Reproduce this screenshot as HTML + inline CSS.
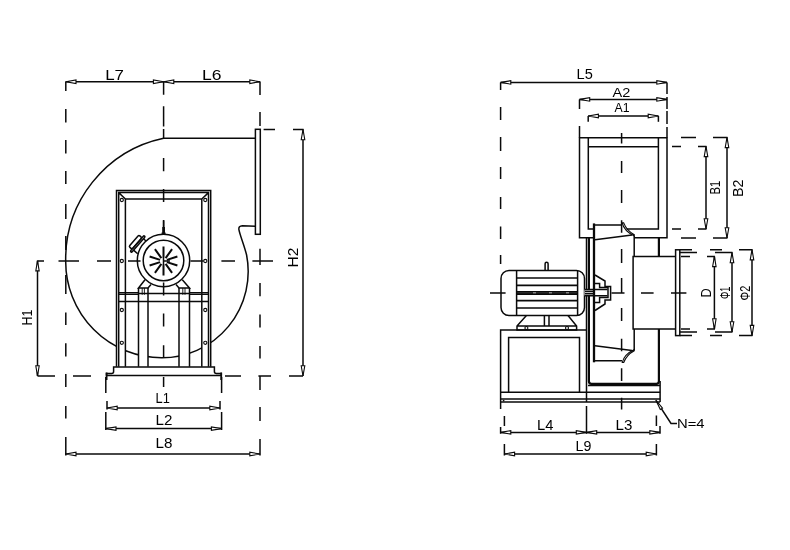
<!DOCTYPE html>
<html lang="en"><head><meta charset="utf-8"><title>Centrifugal fan dimension drawing</title>
<style>
html,body{margin:0;padding:0;background:#fff}
svg{display:block}
.m{fill:none;stroke:#0a0a0a;stroke-width:1.5}
.n{fill:none;stroke:#0a0a0a;stroke-width:1.1}
.k{fill:none;stroke:#0a0a0a;stroke-width:2.2}
.k2{fill:none;stroke:#0a0a0a;stroke-width:2.3}
.t{fill:none;stroke:#0a0a0a;stroke-width:1.8}
.f{fill:none;stroke:#0a0a0a;stroke-width:1.6}
.s{fill:none;stroke:#0a0a0a;stroke-width:2.0}
.d{fill:none;stroke:#0a0a0a;stroke-width:1.5}
.a{fill:#fff;stroke:#0a0a0a;stroke-width:1.1;stroke-linejoin:miter}
.w{fill:#fff;stroke:none}
text{font-family:"Liberation Sans",sans-serif;fill:#000;filter:grayscale(1)}
</style></head><body>
<svg width="790" height="550" viewBox="0 0 790 550">
<rect width="790" height="550" fill="#fff"/>
<g id="front-view">
<path class="m" d="M255.4 226.2L242.4 225.7Q238.4 226 238.9 229.6C240.2 236 244.3 245.5 246.6 255A86.3 86.3 0 0 1 161.9 357.8A96.05 96.05 0 0 1 65.7 261.3A123.4 123.4 0 0 1 163.6 138.2H255.4"/>
<rect class="m" x="255.4" y="129.3" width="4.9" height="105"/>
<path class="w" d="M116.7 301.5H125V366.7H116.7ZM202 301.5H210.7V366.7H202ZM138.5 301.5H148V366.7H138.5ZM179 301.5H189.5V366.7H179Z"/>
<path class="m" d="M116.5 366.7V190.5H210.7V366.7M118.7 366.7V192.6H208.5V366.7M125.4 366.7V199H201.8V366.7M118.7 192.6L125.4 199M208.5 192.6L201.8 199"/>
<path class="m" d="M118.5 294.3H138.5M189.5 294.3H208.7M148 293.6H179M118.5 301.5H208.7"/>
<path class="n" d="M118.5 292.6H138.5M189.5 292.6H208.7"/>
<path class="m" d="M138.5 288V366.7M148 288V366.7M179 288V366.7M189.5 288V366.7"/>
<path class="m" d="M145 279.7L138.5 288H148L151 284.6M182.3 279.7L189.5 288H179L176 284.6M138.5 293.6H148M179 293.6H189.5"/>
<path class="n" style="stroke-width:.9" d="M142.2 288V294.8M144.4 288V294.8M182.8 288V294.8M185 288V294.8"/>
<circle class="n" cx="121.8" cy="200" r="1.6"/>
<circle class="n" cx="121.8" cy="261" r="1.6"/>
<circle class="n" cx="121.8" cy="310" r="1.6"/>
<circle class="n" cx="121.8" cy="342.8" r="1.6"/>
<circle class="n" cx="205.3" cy="200" r="1.6"/>
<circle class="n" cx="205.3" cy="261" r="1.6"/>
<circle class="n" cx="205.3" cy="310" r="1.6"/>
<circle class="n" cx="205.3" cy="342.8" r="1.6"/>
<circle class="m" cx="163.5" cy="260.5" r="26.2"/><circle class="m" cx="163.5" cy="260.5" r="20.3"/>
<path class="s" d="M163.50 257.40L163.50 246.40M161.38 258.09L154.92 249.19M160.08 259.89L149.61 256.49M160.08 262.11L149.61 265.51M161.38 263.91L154.92 272.81M163.50 264.60L163.50 275.60M165.62 263.91L172.08 272.81M166.92 262.11L177.39 265.51M166.92 259.89L177.39 256.49M165.62 258.09L172.08 249.19"/>
<path class="m" d="M163.5 257V265M163 261H170"/>
<path class="m" d="M163.6 220.5V227"/><path d="M162.2 227H165V232.5H165.6V234.5H161.6V232.5H162.2Z" fill="#111"/>
<g transform="translate(137.75 244) rotate(-49.1)"><rect class="m" x="-10.4" y="-0.9" width="20.8" height="1.8" rx="0.9"/><rect class="m" x="-7.7" y="-5.0" width="15.2" height="4.1" rx="1.3"/><path class="m" d="M-7.4 0.9V6.3M7.7 0.9V4.3"/></g>
<path class="m" d="M106.5 375.6V373.6H111.6Q113.6 373.6 113.6 371.6V367H214.4V371.6Q214.4 373.6 216.4 373.6H221.3V375.6M106.5 375.6H221.3"/>
<path class="t" d="M106.6 372.5V380M221.2 372.5V380"/>
<path class="d" d="M65.8 81.6V91 M65.8 109V122.4 M65.8 140V153.6 M65.8 171V184 M65.8 204V219 M65.8 236V250 M65.8 275V294 M65.8 312.4V325 M65.8 343.2V356.5 M65.8 374V387 M65.8 406V418.4 M65.8 437V455.5"/>
<path class="d" d="M163.6 81.6V94.7 M163.6 106.2V126.5 M163.6 129V138 M163.6 158V171.3 M163.6 189V202 M163.6 220V234 M163.6 282.5V295.5 M163.6 313.6V326.4 M163.6 345.3V357.9 M163.6 377V387"/>
<path class="d" d="M260 81.6V95 M260 112V126 M260 248.8V265 M260 283V296.3 M260 314.5V327.5 M260 346V358.6 M260 376V390 M260 407V421 M260 439V455.5"/>
<path class="d" d="M37.5 261H44 M58.5 261H79 M97 261H111 M128 261H140.5 M190.5 261H203.5 M221.4 261H235 M252.4 261H273"/>
<path class="d" d="M37.5 376H55 M73 376H91 M225 376H241 M258.4 376H271 M289 376H303"/>
<path class="d" d="M263.6 129.5H275 M293 129.5H303.6"/>
<path class="d" d="M107 401V409.5"/>
<path class="d" d="M105.8 377V393 M105.8 412V430"/>
<path class="d" d="M220 401V409.5"/>
<path class="d" d="M221.6 377V393 M221.6 412V430"/>
<path class="d" d="M65.8 81.7H163.6"/>
<polygon class="a" points="65.8,81.7 76.0,80.0 76.0,83.5"/>
<polygon class="a" points="163.6,81.7 153.4,80.0 153.4,83.5"/>
<path class="d" d="M163.6 81.7H260"/>
<polygon class="a" points="163.6,81.7 173.8,80.0 173.8,83.5"/>
<polygon class="a" points="260.0,81.7 249.8,80.0 249.8,83.5"/>
<path class="d" d="M107 408H220"/>
<polygon class="a" points="107.0,408.0 117.2,406.2 117.2,409.8"/>
<polygon class="a" points="220.0,408.0 209.8,406.2 209.8,409.8"/>
<path class="d" d="M105.8 428.6H221.6"/>
<polygon class="a" points="105.8,428.6 116.0,426.9 116.0,430.4"/>
<polygon class="a" points="221.6,428.6 211.4,426.9 211.4,430.4"/>
<path class="d" d="M65.8 454H260"/>
<polygon class="a" points="65.8,454.0 76.0,452.2 76.0,455.8"/>
<polygon class="a" points="260.0,454.0 249.8,452.2 249.8,455.8"/>
<path class="d" d="M37.5 260.7V376"/>
<polygon class="a" points="37.5,260.7 35.8,270.9 39.2,270.9"/>
<polygon class="a" points="37.5,376.0 35.8,365.8 39.2,365.8"/>
<path class="d" d="M303 129.5V376"/>
<polygon class="a" points="303.0,129.5 301.2,139.7 304.8,139.7"/>
<polygon class="a" points="303.0,376.0 301.2,365.8 304.8,365.8"/>
<text x="105.2" y="79.6" font-size="14.5" textLength="18.8" lengthAdjust="spacingAndGlyphs">L7</text>
<text x="202" y="80.4" font-size="14.5" textLength="19.5" lengthAdjust="spacingAndGlyphs">L6</text>
<text x="155.5" y="402.6" font-size="14.5" textLength="14.3" lengthAdjust="spacingAndGlyphs">L1</text>
<text x="155.5" y="425" font-size="14.5" textLength="16.9" lengthAdjust="spacingAndGlyphs">L2</text>
<text x="155.5" y="448.4" font-size="14.5" textLength="16.9" lengthAdjust="spacingAndGlyphs">L8</text>
<text transform="translate(32 325.4) rotate(-90)" font-size="15" textLength="15.8" lengthAdjust="spacingAndGlyphs">H1</text>
<text transform="translate(297.6 267.4) rotate(-90)" font-size="14.5" textLength="19.8" lengthAdjust="spacingAndGlyphs">H2</text>
</g>
<g id="side-view">
<path class="m" d="M594 237.7H579.5V137.7H667V237.7H634.2M594 229.1H588.3V137.7M588.3 146.7H658.4M658.4 137.7V229.1H626.5"/>
<path class="m" d="M586.5 237.6V402"/>
<path class="k" d="M588.9 237.6V381.3Q588.9 383.8 591.4 383.8H656.4Q658.9 383.8 658.9 381.3V329M658.9 256.4V237.6"/>
<path class="m" d="M588 385.4H659.6M660.1 381V402"/>
<path class="m" d="M500.6 392.2H660.1M500.6 399.1H660.1M500.6 401.9H660.1"/>
<path class="m" d="M500.6 402V330H586.5M508.6 392.2V337.5H579.5V392.2"/>
<circle cx="503.6" cy="400.6" r="0.9" fill="#111"/>
<rect class="m" x="501" y="270.4" width="83.5" height="45.2" rx="8" ry="8"/>
<path class="m" d="M516.6 270.4V315.6M577.6 270.4V315.6"/>
<path class="f" d="M516.6 278H577.6M516.6 285.4H577.6M516.6 291.7H577.6M516.6 294.1H577.6M516.6 300.6H577.6M516.6 308H577.6"/>
<path class="m" d="M545.1 270.4V263.8Q545.1 262.3 546.6 262.3Q548.1 262.3 548.1 263.8V270.4"/>
<path class="m" d="M526.4 315.6L517 326V330H576.6V326L568 315.6M517 326H576.6M544.4 315.6V326M549 315.6V326"/>
<circle class="n" cx="526.4" cy="328" r="1.5"/><circle class="n" cx="567" cy="328" r="1.5"/>
<path class="w" d="M584.5 289.4H607.5V295.7H584.5Z"/>
<path class="m" d="M584.5 289.4H607.5M584.5 295.7H607.5M585 291.5H594M585 293.7H594"/>
<path class="m" d="M595 275L605 281V286.5H610.6V300H605V304L595 310.5M595 283.5H599.6V287.6H608V297.6H599.6V302.4H595"/>
<path class="k2" d="M594 223.4V362.3"/>
<path class="m" d="M595 225H622M595 239.8L632 235M595 345.8L632 350.4M595 360.8H622"/>
<path class="m" style="stroke-width:1.1" d="M622.2 222.9Q624 231 634.3 236V234.7Q626.5 230.5 623.7 222.9ZM622.2 362.5Q624 354.4 634.3 349.4V350.7Q626.5 354.9 623.7 362.5Z"/>
<path class="m" d="M634.2 236V256.4M634.2 329V350"/>
<path class="m" d="M675.6 256.4H633.1V329H675.6"/>
<rect class="m" x="675.6" y="249.8" width="4.2" height="85.8"/>
<path class="d" d="M656 400.3L671 423.4H677"/><path class="a" d="M655.8 400L662.5 408.1L660.3 409.5Z"/>
<path class="d" d="M500.6 82.4V90 M500.6 107V120 M500.6 137V151 M500.6 167V179 M500.6 197V209 M500.6 226.6V239 M500.6 255V264 M500.6 402V409 M500.6 427V433.8"/>
<path class="d" d="M504.4 416V426 M504.4 444V455.5"/>
<path class="d" d="M621.6 133V143.6 M621.6 161V173 M621.6 190V203 M621.6 220.2V232.7 M621.6 249V263 M621.6 278V293 M621.6 308V321 M621.6 338.8V351.3 M621.6 368.3V381 M621.6 397.7V409.6"/>
<path class="d" d="M490 293H505.6 M517 293H533 M536 293H549 M552 293H566 M569 293H577 M611.5 293H624.5 M641 293H653.6 M671 293H686.4"/>
<path class="d" d="M667 82.4V94 M667 97V109 M667 111V124 M667 127V137.4"/>
<path class="d" d="M579.5 99.4V109 M579.5 126V137.4"/>
<path class="d" d="M588.2 116V121.8"/>
<path class="d" d="M658.4 116V121.8"/>
<path class="d" d="M681 137.4H696 M713 137.4H727.5"/>
<path class="d" d="M672 146.4H681 M698 146.4H706.5"/>
<path class="d" d="M672 229H681 M698 229H706.5"/>
<path class="d" d="M681 238H696 M713 238H727.5"/>
<path class="d" d="M679.8 249.7H692 M710 249.7H722 M739 249.7H752.5"/>
<path class="d" d="M679.8 252.6H697 M715 252.6H732.5"/>
<path class="d" d="M681 256.4H690 M707 256.4H715"/>
<path class="d" d="M681 329H690 M707 329H715"/>
<path class="d" d="M679.8 332H697 M715 332H732.5"/>
<path class="d" d="M679.8 335.6H692 M710 335.6H722 M739 335.6H752.5"/>
<path class="d" d="M586.5 406V433.8"/>
<path class="d" d="M656.4 415.6V426 M656.4 444V455.5"/>
<path class="d" d="M660 426V433.8"/>
<path class="d" d="M500.6 82.4H667"/>
<polygon class="a" points="500.6,82.4 510.8,80.7 510.8,84.2"/>
<polygon class="a" points="667.0,82.4 656.8,80.7 656.8,84.2"/>
<path class="d" d="M579.5 99.4H667"/>
<polygon class="a" points="579.5,99.4 589.7,97.7 589.7,101.2"/>
<polygon class="a" points="667.0,99.4 656.8,97.7 656.8,101.2"/>
<path class="d" d="M588.2 116H658.4"/>
<polygon class="a" points="588.2,116.0 598.4,114.2 598.4,117.8"/>
<polygon class="a" points="658.4,116.0 648.2,114.2 648.2,117.8"/>
<path class="d" d="M706 146.4V229"/>
<polygon class="a" points="706.0,146.4 704.2,156.6 707.8,156.6"/>
<polygon class="a" points="706.0,229.0 704.2,218.8 707.8,218.8"/>
<path class="d" d="M727 137.4V238"/>
<polygon class="a" points="727.0,137.4 725.2,147.6 728.8,147.6"/>
<polygon class="a" points="727.0,238.0 725.2,227.8 728.8,227.8"/>
<path class="d" d="M714.4 256.4V329"/>
<polygon class="a" points="714.4,256.4 712.6,266.6 716.1,266.6"/>
<polygon class="a" points="714.4,329.0 712.6,318.8 716.1,318.8"/>
<path class="d" d="M732 252.6V332"/>
<polygon class="a" points="732.0,252.6 730.2,262.8 733.8,262.8"/>
<polygon class="a" points="732.0,332.0 730.2,321.8 733.8,321.8"/>
<path class="d" d="M752 249.7V335.6"/>
<polygon class="a" points="752.0,249.7 750.2,259.9 753.8,259.9"/>
<polygon class="a" points="752.0,335.6 750.2,325.4 753.8,325.4"/>
<path class="d" d="M500.6 432.4H586.5"/>
<polygon class="a" points="500.6,432.4 510.8,430.6 510.8,434.1"/>
<polygon class="a" points="586.5,432.4 576.3,430.6 576.3,434.1"/>
<path class="d" d="M586.5 432.4H660"/>
<polygon class="a" points="586.5,432.4 596.7,430.6 596.7,434.1"/>
<polygon class="a" points="660.0,432.4 649.8,430.6 649.8,434.1"/>
<path class="d" d="M504.4 454H656.4"/>
<polygon class="a" points="504.4,454.0 514.6,452.2 514.6,455.8"/>
<polygon class="a" points="656.4,454.0 646.2,452.2 646.2,455.8"/>
<text x="576.6" y="78.6" font-size="14" textLength="16.2" lengthAdjust="spacingAndGlyphs">L5</text>
<text x="612.6" y="96.6" font-size="13.2" textLength="17.8" lengthAdjust="spacingAndGlyphs">A2</text>
<text x="614.6" y="112.4" font-size="13" textLength="15.0" lengthAdjust="spacingAndGlyphs">A1</text>
<text x="537" y="430.4" font-size="14.5" textLength="16.4" lengthAdjust="spacingAndGlyphs">L4</text>
<text x="615.6" y="430.4" font-size="14.5" textLength="16.8" lengthAdjust="spacingAndGlyphs">L3</text>
<text x="575.6" y="451" font-size="14" textLength="15.8" lengthAdjust="spacingAndGlyphs">L9</text>
<text x="677" y="428.4" font-size="12.5" textLength="27.6" lengthAdjust="spacingAndGlyphs">N=4</text>
<text transform="translate(720 194.4) rotate(-90)" font-size="15" textLength="13.8" lengthAdjust="spacingAndGlyphs">B1</text>
<text transform="translate(743 197) rotate(-90)" font-size="15" textLength="17.4" lengthAdjust="spacingAndGlyphs">B2</text>
<text transform="translate(710.6 297.6) rotate(-90)" font-size="14" textLength="9.2" lengthAdjust="spacingAndGlyphs">D</text>
<text transform="translate(730 299) rotate(-90)" font-size="14.5" textLength="12.4" lengthAdjust="spacingAndGlyphs">Φ1</text>
<text transform="translate(750 300.4) rotate(-90)" font-size="14.5" textLength="14.8" lengthAdjust="spacingAndGlyphs">Φ2</text>
</g>
</svg>
</body></html>
